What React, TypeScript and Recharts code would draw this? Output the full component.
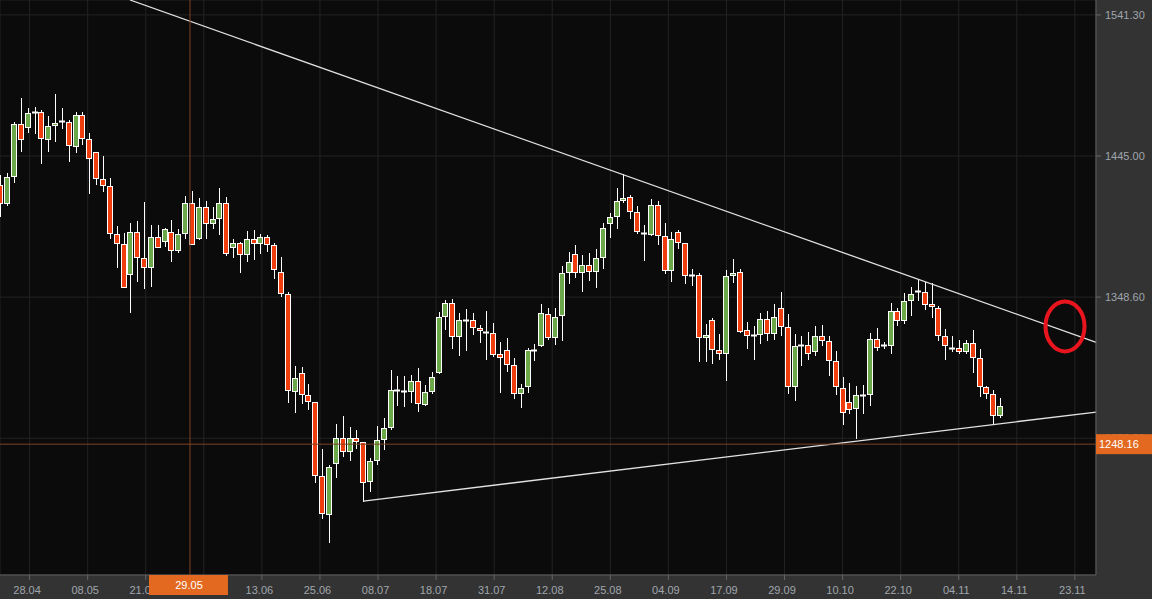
import { ComposedChart, Bar, XAxis, YAxis, CartesianGrid, ReferenceLine, ReferenceDot } from "recharts";

// daily candles (oldest first)
const opens = [
  1425.1, 1412.6, 1431.1, 1466.6, 1464.6, 1474.8, 1474.8, 1456.4, 1465.9, 1469.1, 1468.2, 1451.6, 1472.8, 1456.4, 1447.5, 1429.0,
  1424.3, 1391.5, 1384.6, 1364.2, 1392.8, 1375.1, 1369.3, 1389.4, 1387.1, 1392.8, 1380.5, 1392.2, 1412.6, 1388.7, 1409.9, 1399.0,
  1402.4, 1412.6, 1382.6, 1385.3, 1377.8, 1388.1, 1385.3, 1389.4, 1384.2, 1365.9, 1350.5, 1284.2, 1296.5, 1281.5, 1276.7, 1226.2,
  1200.2, 1235.1, 1252.1, 1243.3, 1252.1, 1249.4, 1222.8, 1237.1, 1251.5, 1259.7, 1284.9, 1284.2, 1284.2, 1291.1, 1275.4, 1284.2,
  1297.2, 1335.5, 1344.3, 1321.8, 1332.7, 1332.7, 1327.3, 1324.9, 1323.9, 1309.5, 1312.2, 1302.0, 1282.9, 1287.7, 1312.7, 1315.7,
  1336.8, 1321.1, 1336.1, 1365.5, 1377.8, 1365.5, 1370.3, 1366.2, 1375.8, 1399.0, 1403.8, 1414.7, 1416.7, 1406.5, 1392.2, 1391.5,
  1411.3, 1390.1, 1366.9, 1392.8, 1385.3, 1363.9, 1363.9, 1321.1, 1332.7, 1312.2, 1310.2, 1363.5, 1365.5, 1325.9, 1322.5, 1323.2,
  1333.4, 1323.9, 1340.9, 1328.0, 1287.7, 1315.7, 1315.7, 1311.6, 1321.8, 1318.4, 1304.7, 1286.3, 1276.7, 1272.6, 1281.5, 1282.2,
  1319.8, 1315.7, 1315.7, 1338.9, 1332.7, 1346.4, 1352.5, 1351.9, 1343.9, 1340.9, 1321.8, 1313.6, 1313.6, 1311.6, 1317.0, 1306.8,
  1287.0, 1282.2, 1267.9,
];
const highs = [
  1432.0, 1433.1, 1468.4, 1484.4, 1477.5, 1478.6, 1476.6, 1472.5, 1487.1, 1477.5, 1469.7, 1475.2, 1475.2, 1460.9, 1447.5, 1444.7,
  1429.7, 1397.3, 1392.2, 1399.0, 1400.8, 1413.3, 1397.6, 1397.6, 1396.0, 1401.0, 1394.9, 1417.6, 1420.8, 1416.1, 1414.2, 1409.9,
  1422.9, 1416.7, 1388.1, 1386.4, 1393.7, 1394.2, 1391.5, 1391.0, 1385.3, 1375.8, 1352.3, 1301.7, 1300.6, 1289.0, 1276.7, 1244.6,
  1233.9, 1261.9, 1267.4, 1259.7, 1257.8, 1249.4, 1238.5, 1260.3, 1265.8, 1298.6, 1294.5, 1294.5, 1295.2, 1300.0, 1288.3, 1297.2,
  1338.2, 1346.4, 1347.1, 1337.5, 1340.2, 1337.5, 1329.3, 1338.9, 1330.7, 1317.7, 1320.4, 1306.8, 1289.0, 1313.6, 1316.3, 1343.7,
  1340.9, 1340.9, 1369.6, 1379.2, 1384.0, 1377.1, 1378.5, 1381.2, 1399.0, 1405.8, 1422.9, 1432.5, 1418.3, 1410.6, 1397.6, 1415.4,
  1414.0, 1399.0, 1392.8, 1394.2, 1385.3, 1367.6, 1365.2, 1330.0, 1334.1, 1323.2, 1366.9, 1374.4, 1367.6, 1331.4, 1328.6, 1337.5,
  1338.9, 1343.7, 1351.9, 1336.8, 1323.2, 1321.8, 1324.5, 1328.6, 1329.3, 1321.8, 1311.6, 1293.8, 1289.7, 1287.7, 1288.3, 1323.9,
  1327.3, 1317.7, 1344.3, 1340.9, 1351.2, 1355.3, 1360.7, 1358.7, 1358.0, 1342.3, 1326.6, 1321.8, 1319.1, 1319.1, 1325.9, 1312.9,
  1287.7, 1284.9, 1279.5,
];
const lows = [
  1403.5, 1411.0, 1426.3, 1447.5, 1460.9, 1459.8, 1439.3, 1447.5, 1454.7, 1463.2, 1440.6, 1446.8, 1452.5, 1418.8, 1425.1, 1420.2,
  1388.3, 1368.7, 1354.6, 1337.5, 1359.1, 1354.1, 1355.7, 1381.9, 1383.0, 1372.8, 1378.9, 1388.1, 1384.2, 1387.6, 1388.1, 1394.9,
  1390.8, 1376.9, 1375.1, 1365.2, 1372.8, 1373.9, 1378.0, 1379.6, 1360.7, 1348.4, 1276.0, 1269.2, 1275.4, 1271.3, 1221.4, 1196.8,
  1180.4, 1224.8, 1239.2, 1236.4, 1244.6, 1208.4, 1215.3, 1233.7, 1243.9, 1257.8, 1274.0, 1273.3, 1276.5, 1269.9, 1274.0, 1282.2,
  1295.9, 1325.9, 1312.9, 1308.1, 1311.6, 1322.5, 1317.0, 1305.4, 1307.5, 1282.9, 1297.2, 1278.8, 1272.6, 1282.9, 1304.7, 1314.3,
  1319.1, 1315.7, 1318.4, 1357.3, 1361.4, 1351.9, 1359.4, 1354.6, 1367.6, 1388.7, 1394.9, 1412.6, 1401.7, 1391.5, 1373.0, 1390.3,
  1384.0, 1364.2, 1358.7, 1381.2, 1357.3, 1356.0, 1304.0, 1304.0, 1302.7, 1305.4, 1291.1, 1358.0, 1324.1, 1312.9, 1305.4, 1316.3,
  1318.4, 1319.1, 1321.8, 1282.2, 1277.4, 1301.3, 1305.4, 1308.1, 1315.0, 1294.5, 1281.5, 1261.0, 1268.5, 1251.5, 1268.5, 1274.0,
  1311.6, 1312.9, 1309.5, 1328.6, 1330.0, 1335.5, 1345.7, 1339.6, 1334.1, 1318.4, 1305.4, 1310.9, 1309.5, 1309.5, 1296.5, 1280.6,
  1278.8, 1261.0, 1265.8,
];
const closes = [
  1412.6, 1430.4, 1466.6, 1456.4, 1474.3, 1474.8, 1457.0, 1465.2, 1467.3, 1469.1, 1452.3, 1472.8, 1457.0, 1443.4, 1429.7, 1424.9,
  1392.2, 1385.3, 1355.3, 1392.8, 1375.8, 1369.3, 1389.4, 1383.0, 1394.9, 1380.5, 1391.5, 1412.6, 1384.6, 1409.9, 1399.0, 1401.9,
  1412.6, 1378.5, 1385.3, 1377.8, 1388.1, 1385.3, 1389.4, 1384.6, 1367.6, 1351.2, 1284.9, 1293.1, 1282.2, 1277.4, 1226.9, 1200.9,
  1232.3, 1252.1, 1243.3, 1252.1, 1250.1, 1222.1, 1236.4, 1250.8, 1259.0, 1284.9, 1284.9, 1284.2, 1291.1, 1276.0, 1283.6, 1293.8,
  1334.8, 1344.3, 1321.8, 1332.7, 1332.7, 1328.0, 1325.9, 1324.9, 1309.5, 1307.5, 1302.7, 1282.9, 1286.3, 1312.2, 1312.7, 1337.5,
  1321.1, 1334.8, 1364.8, 1372.3, 1365.5, 1370.3, 1366.2, 1375.1, 1395.6, 1403.1, 1414.0, 1416.1, 1407.2, 1393.5, 1392.2, 1411.3,
  1390.8, 1366.9, 1388.1, 1386.0, 1363.5, 1363.9, 1321.1, 1322.5, 1312.9, 1310.2, 1362.8, 1364.8, 1325.2, 1322.5, 1322.5, 1333.4,
  1323.9, 1334.8, 1328.6, 1287.7, 1315.0, 1315.7, 1310.2, 1321.8, 1319.1, 1305.4, 1287.7, 1269.9, 1272.0, 1281.5, 1281.5, 1319.8,
  1314.3, 1315.7, 1338.9, 1332.7, 1345.7, 1350.5, 1352.5, 1343.7, 1342.3, 1322.5, 1315.7, 1313.6, 1311.6, 1317.0, 1307.5, 1287.7,
  1282.9, 1267.9, 1274.0,
];

// candle slots on the time axis, empty days to the right included
const slotCount = 160;

// the fourth label sits under the crosshair date box, so it stays blank
const dateLabels = [
  "28.04", "08.05", "21.05", "", "13.06", "25.06", "08.07", "18.07", "31.07", "12.08",
  "25.08", "04.09", "17.09", "29.09", "10.10", "22.10", "04.11", "14.11", "23.11",
];
// where each date label sits, in candle slots
const dateTickSlots = [
  4.25, 12.73, 21.21, 29.69, 38.17, 46.65, 55.13, 63.61, 72.09, 80.57,
  89.05, 97.53, 106.01, 114.49, 122.97, 131.45, 139.93, 148.41, 156.89,
];

const priceTicks = [1252.2, 1348.6, 1445.0, 1541.3];
const priceDomain = [1158.8, 1551.5];

// crosshair
const crossSlot = 27.67;
const crossDate = "29.05";
const crossPrice = 1248.16;

// hand drawn trend lines and the circled spot
const upperTrend = [{ x: 18.91, y: 1551.5 }, { x: 160, y: 1317.7 }];
const lowerTrend = [{ x: 53, y: 1209.3 }, { x: 160, y: 1270.1 }];
const markSlot = 155.45;
const markPrice = 1328.6;

const rows = Array.from({ length: slotCount }, (_, i) => ({
  i,
  open: opens[i] ?? null,
  high: highs[i] ?? null,
  low: lows[i] ?? null,
  close: closes[i] ?? null,
  range: i < opens.length ? [lows[i], highs[i]] : null,
}));

const UP = "#6aa84a";
const DOWN = "#f03d0e";
const ORANGE = "#e2691f";
const AXIS_TEXT = "#a0a6ad";
const pad = { left: -2.924, right: 3.24 };

const Candle = (props: any) => {
  const { x, y, width, height, payload } = props;
  if (!payload || payload.open == null || !isFinite(y) || !isFinite(height)) return <g />;
  const { open, close, high, low } = payload;
  const top = Math.min(y, y + height);
  const k = Math.abs(height) / (high - low);
  const at = (v: number) => top + (high - v) * k;
  const cx = Math.round(x + width / 2);
  const yHi = Math.round(at(high));
  const yLo = Math.round(at(low));
  const yO = Math.round(at(open));
  const yC = Math.round(at(close));
  const bTop = Math.min(yO, yC);
  const bBot = Math.max(yO, yC);
  return (
    <g>
      <line x1={cx + 0.5} x2={cx + 0.5} y1={yHi} y2={yLo} stroke="#fff" strokeWidth={1} />
      {bBot - bTop < 1 ? (
        <line x1={cx - 3} x2={cx + 3} y1={bTop + 0.5} y2={bTop + 0.5} stroke="#fff" strokeWidth={2} />
      ) : (
        <rect x={cx - 2.5} y={bTop + 0.5} width={5} height={bBot - bTop} fill={close > open ? UP : DOWN} stroke="#fff" strokeWidth={1} />
      )}
    </g>
  );
};

const DateCrossLabel = ({ viewBox }: any) => {
  const { x, y, height } = viewBox;
  const bottom = y + height;
  return (
    <g>
      <rect x={x - 41} y={bottom} width={79} height={20} fill={ORANGE} />
      <text x={x - 1} y={bottom + 10} dy="0.35em" textAnchor="middle" fill="#fff" fontSize={11}>{crossDate}</text>
    </g>
  );
};

const PriceCrossLabel = ({ viewBox }: any) => {
  const { x, y, width } = viewBox;
  const right = x + width;
  return (
    <g>
      <rect x={right} y={y - 10} width={56} height={20} fill={ORANGE} />
      <text x={right + 3} y={y} dy="0.35em" fill="#fff" fontSize={11}>{crossPrice.toFixed(2)}</text>
    </g>
  );
};

export default function App() {
  return (
    <div style={{ position: "absolute", left: 0, top: 0, width: 1152, height: 599, background: "#333", fontFamily: "'Liberation Sans', Arial, sans-serif" }}>
      <ComposedChart width={1152} height={599} data={rows} margin={{ top: 0, right: 0, bottom: 0, left: 0 }}>
        <CartesianGrid xAxisId="t" stroke="#232323" fill="#0b0b0b" fillOpacity={1} />
        <XAxis xAxisId="c" dataKey="i" type="category" hide height={0} padding={pad} />
        <XAxis
          xAxisId="t"
          dataKey="i"
          type="number"
          domain={[-0.5, slotCount - 0.5]}
          allowDataOverflow
          padding={pad}
          ticks={dateTickSlots}
          interval={0}
          tickFormatter={(v: number) => dateLabels[dateTickSlots.indexOf(v)] ?? ""}
          height={24}
          axisLine={{ stroke: "#666" }}
          tickLine={{ stroke: "#666" }}
          tickSize={5}
          tickMargin={6}
          tick={{ fill: AXIS_TEXT, fontSize: 11, dx: -2.5 }}
        />
        <YAxis
          orientation="right"
          width={56}
          domain={priceDomain}
          allowDataOverflow
          ticks={priceTicks}
          interval={0}
          tickFormatter={(v: number) => v.toFixed(2)}
          axisLine={{ stroke: "#666" }}
          tickLine={{ stroke: "#666" }}
          tickSize={5}
          tickMargin={4}
          tick={{ fill: AXIS_TEXT, fontSize: 11 }}
        />
        <Bar xAxisId="c" dataKey="range" shape={Candle} isAnimationActive={false} />
        <ReferenceLine xAxisId="t" segment={upperTrend} stroke="#e2e2e2" strokeWidth={1.3} ifOverflow="visible" />
        <ReferenceLine xAxisId="t" segment={lowerTrend} stroke="#e2e2e2" strokeWidth={1.3} ifOverflow="visible" />
        <ReferenceDot
          xAxisId="t"
          x={markSlot}
          y={markPrice}
          ifOverflow="visible"
          shape={(p: any) => <ellipse cx={p.cx} cy={p.cy} rx={19.5} ry={25} fill="none" stroke="#e8151f" strokeWidth={4} />}
        />
        <ReferenceLine xAxisId="t" x={crossSlot} stroke="#7e4226" zIndex={2000} label={(p: any) => <DateCrossLabel {...p} />} />
        <ReferenceLine xAxisId="t" y={crossPrice} stroke="#7e4226" zIndex={2000} label={(p: any) => <PriceCrossLabel {...p} />} />
      </ComposedChart>
    </div>
  );
}
